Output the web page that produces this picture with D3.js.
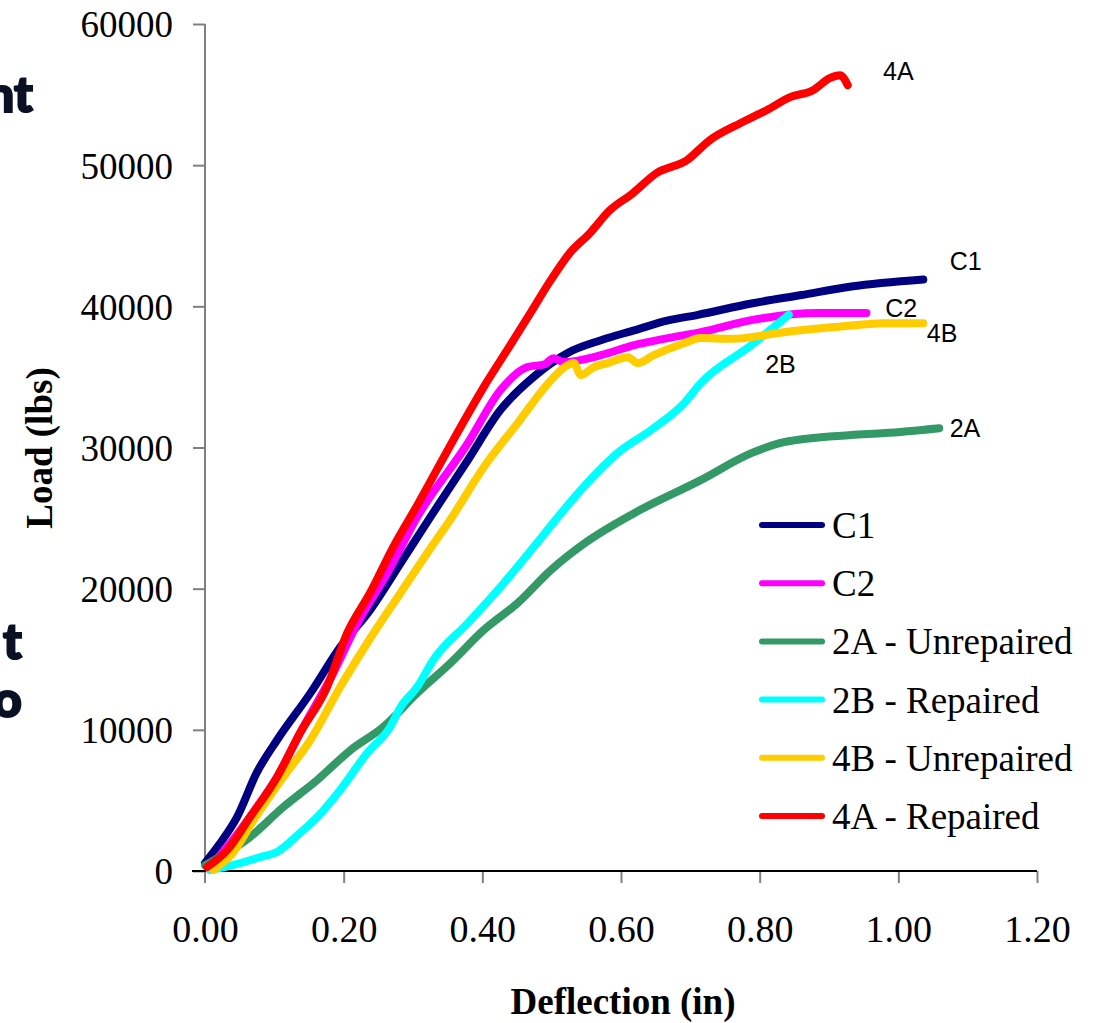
<!DOCTYPE html>
<html>
<head>
<meta charset="utf-8">
<script src="https://cdn.jsdelivr.net/npm/d3@7"></script>
<style>
  body { margin: 0; background: #fff; }
  svg { display: block; }
</style>
</head>
<body>
<script>
// data: [deflection (in), load (lbs)]
var c1 = [[0,570],[0.022,1980],[0.046,3800],[0.075,7000],[0.104,9280],[0.152,12600],[0.195,15860],[0.238,18480],[0.282,21800],[0.325,25070],[0.379,29100],[0.426,32650],[0.474,35000],[0.523,36700],[0.571,37600],[0.619,38300],[0.668,39000],[0.711,39400],[0.788,40200],[0.86,40800],[0.932,41400],[1.036,41900]];
var c2 = [[0.007,280],[0.04,2200],[0.075,4530],[0.104,6660],[0.137,9770],[0.185,14020],[0.22,17560],[0.263,21100],[0.306,25070],[0.379,30300],[0.426,34060],[0.465,35700],[0.49,35900],[0.503,36330],[0.517,36050],[0.571,36540],[0.619,37250],[0.668,37750],[0.715,38170],[0.788,39020],[0.884,39520],[0.954,39520]];
var s2A = [[0,400],[0.065,2410],[0.113,4530],[0.162,6450],[0.21,8570],[0.257,10200],[0.306,12600],[0.354,14730],[0.402,17070],[0.451,18980],[0.499,21320],[0.55,23300],[0.619,25350],[0.715,27690],[0.788,29600],[0.835,30380],[0.932,30880],[0.98,31020],[1.059,31370]];
var s2B = [[0.007,70],[0.04,420],[0.08,990],[0.104,1350],[0.137,2690],[0.162,3820],[0.195,5740],[0.234,8360],[0.267,10200],[0.282,11600],[0.306,13030],[0.33,15000],[0.379,17560],[0.426,20110],[0.474,22950],[0.509,25070],[0.546,27200],[0.595,29600],[0.643,31230],[0.691,33140],[0.715,34560],[0.788,37250],[0.842,39400]];
var s4B = [[0.012,70],[0.04,1270],[0.07,3600],[0.113,6660],[0.152,9280],[0.195,13030],[0.234,16150],[0.282,19700],[0.33,23200],[0.354,24900],[0.402,28600],[0.451,31730],[0.499,34770],[0.523,35840],[0.532,35980],[0.542,35130],[0.561,35700],[0.581,35980],[0.61,36400],[0.624,35980],[0.647,36540],[0.691,37390],[0.715,37750],[0.76,37700],[0.835,38170],[0.908,38530],[0.98,38810],[1.036,38810]];
var s4A = [[0.003,280],[0.032,1480],[0.065,3820],[0.104,6660],[0.137,9770],[0.176,13030],[0.205,16850],[0.238,19700],[0.272,23000],[0.306,25900],[0.358,30520],[0.402,34280],[0.441,37300],[0.469,39500],[0.498,41800],[0.526,43770],[0.555,45180],[0.584,46810],[0.617,48010],[0.651,49430],[0.695,50350],[0.728,51770],[0.772,52970],[0.81,53890],[0.844,54820],[0.877,55310],[0.901,56160],[0.916,56370],[0.927,55670]];

var seriesNames = ["C1", "C2", "2A - Unrepaired", "2B - Repaired", "4B - Unrepaired", "4A - Repaired"];
var seriesColors = ["#000080", "#ff00ff", "#339966", "#00ffff", "#ffcc00", "#ff0000"];
var seriesData = [c1, c2, s2A, s2B, s4B, s4A];

var xTicks = [0, 0.2, 0.4, 0.6, 0.8, 1.0, 1.2];
var yTicks = [0, 10000, 20000, 30000, 40000, 50000, 60000];

// end-of-line labels: [text, deflection, load]
var endLabels = [["4A",0.978,56000],["C1",1.074,42560],["C2",0.981,39240],["4B",1.041,37460],["2B",0.808,35270],["2A",1.074,30740]];

var W = 1097, H = 1023;
var x = d3.scaleLinear().domain([0, 1.2]).range([205, 1037]);
var y = d3.scaleLinear().domain([0, 60000]).range([871, 24]);

var svg = d3.select("body").append("svg")
    .attr("width", W)
    .attr("height", H);

svg.append("rect").attr("width", W).attr("height", H).attr("fill", "#fff");

// leftover slide text cut off at the left edge
var frag = svg.append("g")
    .attr("font-family", "Lato, 'DejaVu Sans', sans-serif")
    .attr("font-weight", 900)
    .attr("fill", "#0b1024")
    .attr("stroke", "#0b1024")
    .attr("stroke-width", 2)
    .attr("text-anchor", "end");
frag.append("text").attr("x", 33).attr("y", 112).attr("font-size", 50).text("nt");
frag.append("text").attr("x", 22).attr("y", 659).attr("font-size", 50).text("t");
frag.append("text").attr("x", 22).attr("y", 717).attr("font-size", 50).text("o");

// axes
var xAxis = d3.axisBottom(x).tickValues(xTicks).tickSize(12).tickSizeOuter(0).tickFormat(d3.format(".2f"));
var yAxis = d3.axisLeft(y).tickValues(yTicks).tickSize(12).tickSizeOuter(0).tickFormat(d3.format("d"));

var gy = svg.append("g").attr("transform", "translate(205,0)").call(yAxis);
gy.select(".domain").remove();
gy.append("line").attr("x1", 0).attr("x2", 0).attr("y1", 24).attr("y2", 883)
    .attr("stroke", "#808080").attr("stroke-width", 2);
gy.selectAll(".tick line").attr("stroke", "#808080").attr("stroke-width", 2);
gy.selectAll(".tick text")
    .attr("x", -32)
    .attr("dy", "0.35em")
    .attr("font-family", "'Liberation Serif', 'Times New Roman', serif")
    .attr("font-size", 37)
    .attr("fill", "#000");

var gx = svg.append("g").attr("transform", "translate(0,871)").call(xAxis);
gx.select(".domain").remove();
gx.append("line").attr("x1", 192).attr("x2", 1037).attr("y1", 0).attr("y2", 0)
    .attr("stroke", "#000").attr("stroke-width", 2);
gx.selectAll(".tick line").attr("stroke", "#808080").attr("stroke-width", 2);
gx.selectAll(".tick text")
    .attr("y", 44)
    .attr("dy", "0.71em")
    .attr("font-family", "'Liberation Serif', 'Times New Roman', serif")
    .attr("font-size", 38)
    .attr("fill", "#000");
gx.selectAll(".tick").filter(function(d) { return d === 0; }).select("line").remove();

// axis titles
svg.append("text")
    .attr("x", 623).attr("y", 1014)
    .attr("text-anchor", "middle")
    .attr("font-family", "'Liberation Serif', 'Times New Roman', serif")
    .attr("font-weight", "bold")
    .attr("font-size", 37)
    .text("Deflection (in)");

svg.append("text")
    .attr("transform", "translate(52,448) rotate(-90)")
    .attr("text-anchor", "middle")
    .attr("font-family", "'Liberation Serif', 'Times New Roman', serif")
    .attr("font-weight", "bold")
    .attr("font-size", 37)
    .text("Load (lbs)");

// lines
var line = d3.line()
    .curve(d3.curveMonotoneX)
    .x(function(d) { return x(d[0]); })
    .y(function(d) { return y(d[1]); });

svg.append("g").selectAll("path")
    .data(seriesData)
    .enter().append("path")
    .attr("d", line)
    .attr("fill", "none")
    .attr("stroke", function(d, i) { return seriesColors[i]; })
    .attr("stroke-width", 8)
    .attr("stroke-linejoin", "round")
    .attr("stroke-linecap", "round");

// end labels
svg.append("g").selectAll("text")
    .data(endLabels)
    .enter().append("text")
    .attr("x", function(d) { return x(d[1]); })
    .attr("y", function(d) { return y(d[2]); })
    .attr("font-family", "'Liberation Sans', Arial, sans-serif")
    .attr("font-size", 25)
    .attr("fill", "#000")
    .text(function(d) { return d[0]; });

// legend
var legend = svg.append("g").selectAll("g")
    .data(seriesNames)
    .enter().append("g")
    .attr("transform", function(d, i) { return "translate(760," + (525 + i * 58.2) + ")"; });

legend.append("line")
    .attr("x1", 2).attr("x2", 62)
    .attr("stroke", function(d, i) { return seriesColors[i]; })
    .attr("stroke-width", 6)
    .attr("stroke-linecap", "round");

legend.append("text")
    .attr("x", 72).attr("y", 13)
    .attr("font-family", "'Liberation Serif', 'Times New Roman', serif")
    .attr("font-size", 37)
    .text(function(d) { return d; });
</script>
</body>
</html>
